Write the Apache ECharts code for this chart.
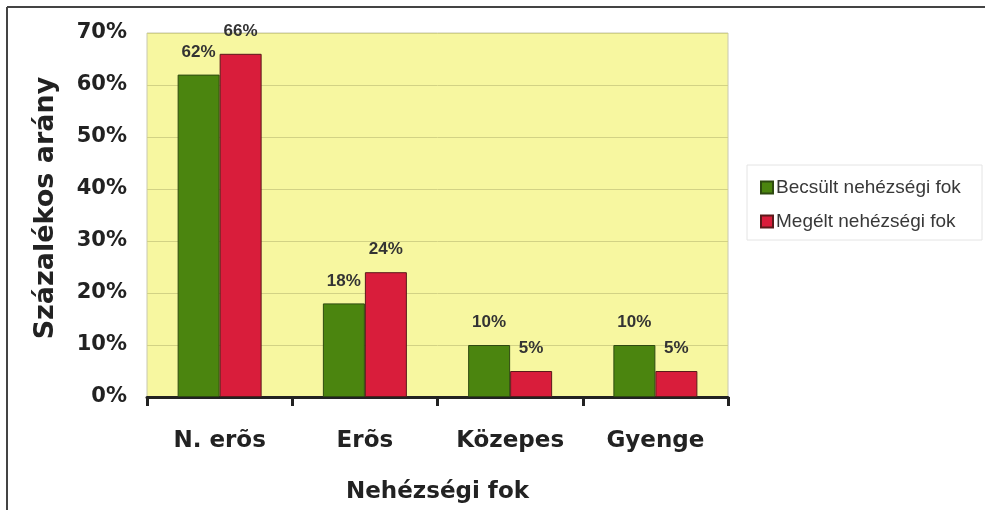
<!DOCTYPE html>
<html>
<head>
<meta charset="utf-8">
<script src="https://cdn.jsdelivr.net/npm/echarts@6/dist/echarts.min.js"></script>
<style>
  html, body { margin: 0; padding: 0; background: #fff; }
  #chart { width: 985px; height: 510px; }
</style>
</head>
<body>
<div id="chart"></div>
<script>
// adatok
var categories = ["N. erõs", "Erõs", "Közepes", "Gyenge"];
var becsult = [62, 18, 10, 10];
var megelt = [66, 24, 5, 5];
var seriesNames = ["Becsült nehézségi fok", "Megélt nehézségi fok"];

var myChart = echarts.init(document.getElementById("chart"));
var font = "Liberation Sans, Arial, sans-serif";
var wide = "DejaVu Sans, Liberation Sans, sans-serif";

var labelStyle = {
  show: true,
  position: "top",
  distance: 14,
  formatter: "{c}%",
  fontFamily: font,
  fontWeight: "bold",
  fontSize: 17,
  color: "#333",
};

var option = {
  animation: false,
  backgroundColor: "#fff",
  textStyle: { fontFamily: font },
  graphic: [
    // keret
    { type: "line", shape: { x1: 7, y1: 7, x2: 985, y2: 7 }, style: { stroke: "#444", lineWidth: 2 } },
    { type: "line", shape: { x1: 7, y1: 7, x2: 7, y2: 510 }, style: { stroke: "#444", lineWidth: 2 } },
    // jelmagyarázat doboza
    { type: "rect", shape: { x: 747, y: 165, width: 235, height: 75 }, style: { fill: "#fff", stroke: "#e4e4e4", lineWidth: 1 } },
  ],
  legend: {
    orient: "vertical",
    left: 755,
    top: 173,
    itemGap: 15,
    itemWidth: 12,
    itemHeight: 12,
    icon: "rect",
    textStyle: { fontFamily: font, fontSize: 19, color: "#383838", padding: [0, 0, 0, -2] },
    data: seriesNames,
  },
  grid: {
    left: 147,
    right: 257,
    top: 33,
    bottom: 113,
    outerBoundsMode: "none",
    show: true,
    backgroundColor: "#f7f7a0",
    borderColor: "#c8c8b0",
    borderWidth: 1,
  },
  xAxis: {
    type: "category",
    data: categories,
    name: "Nehézségi fok",
    nameLocation: "middle",
    nameGap: 84,
    nameTextStyle: { fontFamily: wide, fontWeight: "bold", fontSize: 23, color: "#222" },
    axisLine: { lineStyle: { color: "#222", width: 3 } },
    axisTick: { show: true, length: 9, lineStyle: { color: "#222", width: 3 } },
    axisLabel: { margin: 33, fontFamily: wide, fontWeight: "bold", fontSize: 23, color: "#222" },
  },
  yAxis: {
    type: "value",
    min: 0,
    max: 70,
    interval: 10,
    name: "Százalékos arány",
    nameLocation: "middle",
    nameGap: 88,
    nameTextStyle: { fontFamily: wide, fontWeight: "bold", fontSize: 27, color: "#222", padding: [0, 0, 0, 14] },
    axisLine: { show: false },
    axisTick: { show: false },
    axisLabel: { margin: 20, formatter: "{value}%", fontFamily: wide, fontWeight: "bold", fontSize: 21, color: "#222" },
    splitLine: { lineStyle: { color: "#d2d285", width: 1 } },
  },
  series: [
    {
      name: seriesNames[0],
      type: "bar",
      data: becsult,
      barWidth: 42,
      barGap: "0%",
      itemStyle: { color: "#4b850f", borderColor: "#2e4a10", borderWidth: 1 },
      label: labelStyle,
    },
    {
      name: seriesNames[1],
      type: "bar",
      data: megelt,
      barWidth: 42,
      itemStyle: { color: "#d91d3b", borderColor: "#5a1a1a", borderWidth: 1 },
      label: labelStyle,
    },
  ],
};

myChart.setOption(option);
</script>
</body>
</html>
